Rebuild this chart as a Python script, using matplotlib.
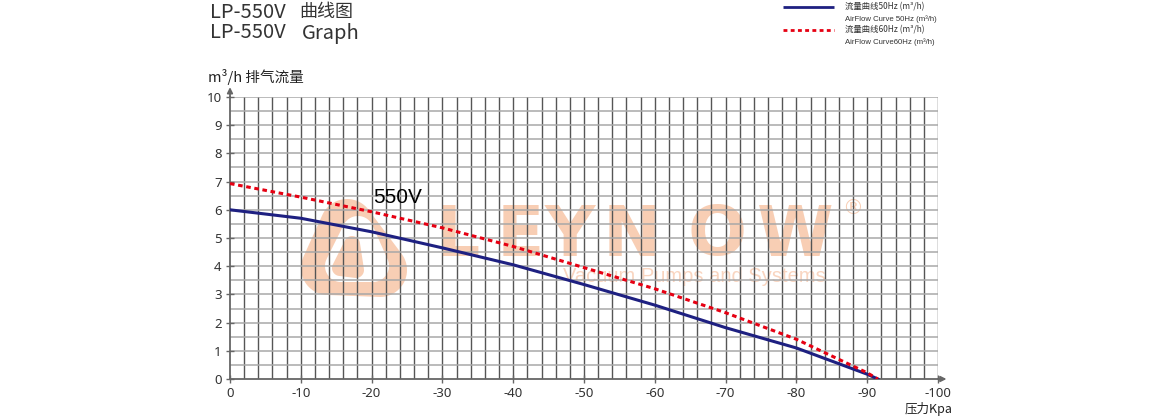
import numpy as np
import matplotlib
matplotlib.use("Agg")
import matplotlib.pyplot as plt
from matplotlib.patches import Polygon

# ---- data ----
pressure = [0, -10, -20, -30, -40, -50, -60, -70, -80, -90, -91.5]
flow_50hz = [6.0, 5.7, 5.22, 4.65, 4.05, 3.35, 2.62, 1.82, 1.1, 0.17, 0.0]
flow_60hz = [6.93, 6.45, 5.93, 5.36, 4.7, 3.95, 3.2, 2.35, 1.41, 0.22, 0.0]
x_ticks = [0, -10, -20, -30, -40, -50, -60, -70, -80, -90, -100]
y_ticks = [0, 1, 2, 3, 4, 5, 6, 7, 8, 9, 10]
title_cn = "曲线图"
title_en = "Graph"
model = "LP-550V"
legend_50 = ["流量曲线50Hz (m³/h)", "AirFlow Curve 50Hz (m³/h)"]
legend_60 = ["流量曲线60Hz (m³/h)", "AirFlow Curve60Hz (m³/h)"]

CJK = ["Noto Sans CJK SC", "DejaVu Sans"]
W, H = 1160, 420
fig = plt.figure(figsize=(W / 100, H / 100), dpi=100)

# background overlay in pixel coordinates (y down)
bg = fig.add_axes([0, 0, 1, 1], zorder=0)
bg.set_xlim(0, W)
bg.set_ylim(H, 0)
bg.axis("off")

wm = "#f8ceb4"


def hull(points):
    pts = sorted(map(tuple, points))
    def cross(o, a, b):
        return (a[0] - o[0]) * (b[1] - o[1]) - (a[1] - o[1]) * (b[0] - o[0])
    lower, upper = [], []
    for p in pts:
        while len(lower) >= 2 and cross(lower[-2], lower[-1], p) <= 0:
            lower.pop()
        lower.append(p)
    for p in reversed(pts):
        while len(upper) >= 2 and cross(upper[-2], upper[-1], p) <= 0:
            upper.pop()
        upper.append(p)
    return np.array(lower[:-1] + upper[:-1])


def rounded_triangle(verts, r, n=72):
    t = np.linspace(0, 2 * np.pi, n, endpoint=False)
    circ = np.c_[np.cos(t), np.sin(t)] * r
    pts = np.vstack([np.array(v) + circ for v in verts])
    return hull(pts)


bg.add_patch(Polygon(rounded_triangle([(347, 226), (328, 268), (380, 270)], 27),
                     facecolor=wm, edgecolor="none"))
bg.add_patch(Polygon(rounded_triangle([(358, 232), (341, 266), (373, 266)], 16),
                     facecolor="white", edgecolor="none"))
bg.add_patch(Polygon(rounded_triangle([(352, 244), (340, 268), (356, 270)], 8),
                     facecolor=wm, edgecolor="none"))

for ch, cx in zip("LEYNOW", [458, 520, 570, 632, 717, 795]):
    bg.text(cx, 236, ch, fontsize=50, fontweight="bold", family="DejaVu Sans",
            color=wm, ha="center", va="center")
bg.text(563, 276, "Vacuum Pumps and Systems", fontsize=14.5, family="Liberation Sans",
        color="#f9d5c0", ha="left", va="center")
bg.text(853, 208, "®", fontsize=15, family="DejaVu Sans", color=wm, ha="center", va="center")

# titles
tc = "#333333"
bg.text(210, 12, model, fontsize=14.5, family=CJK, color=tc, ha="left", va="center")
bg.text(299, 12, title_cn, fontsize=13, family=CJK, color=tc, ha="left", va="center")
bg.text(210, 33, model, fontsize=14.5, family=CJK, color=tc, ha="left", va="center")
bg.text(302, 33, title_en, fontsize=14.5, family=CJK, color=tc, ha="left", va="center")

# legend
bg.plot([783, 834], [7, 7], color="#1e2081", lw=2.0, solid_capstyle="butt")
bg.plot([783, 834], [30, 30], color="#e60012", lw=2.0, linestyle=(0, (1.4, 1.2)))
bg.text(845, 7, legend_50[0], fontsize=6, family=CJK, color=tc, ha="left", va="center")
bg.text(845, 19, legend_50[1], fontsize=5.6, family="Liberation Sans", color=tc, ha="left", va="center")
bg.text(845, 30, legend_60[0], fontsize=6, family=CJK, color=tc, ha="left", va="center")
bg.text(845, 42, legend_60[1], fontsize=5.6, family="Liberation Sans", color=tc, ha="left", va="center")

# axis labels
bg.text(208, 77, "m³/h 排气流量", fontsize=10.5, family=CJK, color="#222222", ha="left", va="center")
bg.text(952, 409, "压力Kpa", fontsize=9, family=CJK, color="#222222", ha="right", va="center")

# ---- main axes ----
x0, x1, y0, y1 = 230, 938, 97, 379
ax = fig.add_axes([x0 / W, (H - y1) / H, (x1 - x0) / W, (y1 - y0) / H], zorder=2)
ax.patch.set_alpha(0)
ax.set_xlim(0, -100)
ax.set_ylim(0, 10)

for gx in np.arange(-2, -101, -2):
    ax.axvline(gx, color="#555555", lw=1.0, zorder=1)
for gy in np.arange(0.5, 10.01, 0.5):
    ax.axhline(gy, color="#a8a8a8", lw=1.1, zorder=1)

ax.plot(pressure, flow_50hz, color="#1e2081", lw=2.2, zorder=3)
ax.plot(pressure, flow_60hz, color="#e60012", lw=2.2, linestyle=(0, (1.5, 1.2)), zorder=4)

ax.text(-23.7, 6.45, "550V", fontsize=15, family="Liberation Sans", color="black",
        ha="center", va="center", zorder=5)

for s in ["top", "right"]:
    ax.spines[s].set_visible(False)
for s in ["left", "bottom"]:
    ax.spines[s].set_color("#666666")
    ax.spines[s].set_linewidth(1.3)
    ax.spines[s].set_zorder(2)

ax.set_xticks(x_ticks)
ax.set_xticklabels([str(v) for v in x_ticks])
ax.set_yticks(y_ticks)
ax.set_yticklabels([str(v) for v in y_ticks])
ax.tick_params(axis="both", direction="inout", length=6, width=1.0, color="#666666",
               labelsize=9.5, labelcolor="#333333", pad=3)
for lab in ax.get_xticklabels() + ax.get_yticklabels():
    lab.set_family("Noto Sans")

# arrows
ax.annotate("", xy=(0, 1.035), xytext=(0, 1.0), xycoords="axes fraction",
            arrowprops=dict(arrowstyle="-|>", color="#666666", lw=1.3, mutation_scale=8,
                            shrinkA=0, shrinkB=0), annotation_clip=False)
ax.annotate("", xy=(1.012, 0), xytext=(1.0, 0), xycoords="axes fraction",
            arrowprops=dict(arrowstyle="-|>", color="#666666", lw=1.3, mutation_scale=8,
                            shrinkA=0, shrinkB=0), annotation_clip=False)

fig.savefig("out.png", dpi=100)
